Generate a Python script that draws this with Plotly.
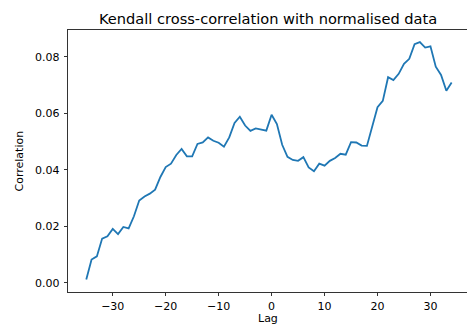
import plotly.graph_objects as go

# Kendall tau cross-correlation per lag (normalised series)
lags = list(range(-35, 35))
correlation = [
    0.0012, 0.0083, 0.0094, 0.0157, 0.0165, 0.0191, 0.0173, 0.0198, 0.0193, 0.0236,
    0.0292, 0.0306, 0.0316, 0.0330, 0.0375, 0.0410, 0.0422, 0.0453, 0.0474, 0.0448,
    0.0448, 0.0492, 0.0497, 0.0515, 0.0503, 0.0496, 0.0482, 0.0515, 0.0566, 0.0588,
    0.0557, 0.0538, 0.0547, 0.0542, 0.0539, 0.0595, 0.0562, 0.0489, 0.0446, 0.0435,
    0.0432, 0.0445, 0.0409, 0.0395, 0.0422, 0.0415, 0.0432, 0.0442, 0.0457, 0.0454,
    0.0498, 0.0497, 0.0486, 0.0485, 0.0554, 0.0622, 0.0644, 0.0728, 0.0718, 0.0740,
    0.0775, 0.0793, 0.0845, 0.0852, 0.0833, 0.0837, 0.0765, 0.0736, 0.0680, 0.0709,
]

x_ticks = [-30, -20, -10, 0, 10, 20, 30]
y_ticks = [0.00, 0.02, 0.04, 0.06, 0.08]

title_text = "Kendall cross-correlation with normalised data"
x_label = "Lag"
y_label = "Correlation"

FONT = "DejaVu Sans"
INK = "#000000"

fig = go.Figure()
fig.add_trace(go.Scatter(
    x=lags, y=correlation, mode="lines",
    line=dict(color="#1f77b4", width=1.8),
    hoverinfo="skip",
))

axis_common = dict(
    showgrid=False, zeroline=False,
    showline=True, linecolor=INK, linewidth=0.8,
    ticks="outside", ticklen=3.5, tickwidth=0.8, tickcolor=INK,
    tickfont=dict(family=FONT, size=11, color=INK),
)

fig.update_layout(
    width=467, height=334,
    margin=dict(l=68, r=0, t=30, b=42),
    paper_bgcolor="white", plot_bgcolor="white",
    showlegend=False,
    font=dict(family=FONT, color=INK),
    xaxis=dict(
        range=[-38.45, 36.9], tickvals=x_ticks,
        ticktext=[str(v).replace("-", "\u2212") for v in x_ticks],
        mirror=True, ticklabelstandoff=0, **axis_common,
    ),
    yaxis=dict(
        range=[-0.0032, 0.0895], tickvals=y_ticks,
        ticktext=[f"{v:.2f}" for v in y_ticks],
        mirror=False, ticklabelstandoff=2, **axis_common,
    ),
    annotations=[
        dict(text=title_text, xref="paper", yref="paper", x=0.5, y=1,
             xanchor="center", yanchor="bottom", yshift=1, showarrow=False,
             font=dict(family=FONT, size=14.6, color=INK)),
        dict(text=x_label, xref="paper", yref="paper", x=0.5025, y=0,
             xanchor="center", yanchor="top", yshift=-19, showarrow=False,
             borderpad=0, font=dict(family=FONT, size=11, color=INK)),
        dict(text=y_label, xref="paper", yref="paper", x=0, y=0.5,
             xanchor="right", yanchor="middle", xshift=-41, textangle=-90,
             showarrow=False, font=dict(family=FONT, size=11, color=INK)),
    ],
)

fig.write_html("out.html", config={"displayModeBar": False, "staticPlot": True})
